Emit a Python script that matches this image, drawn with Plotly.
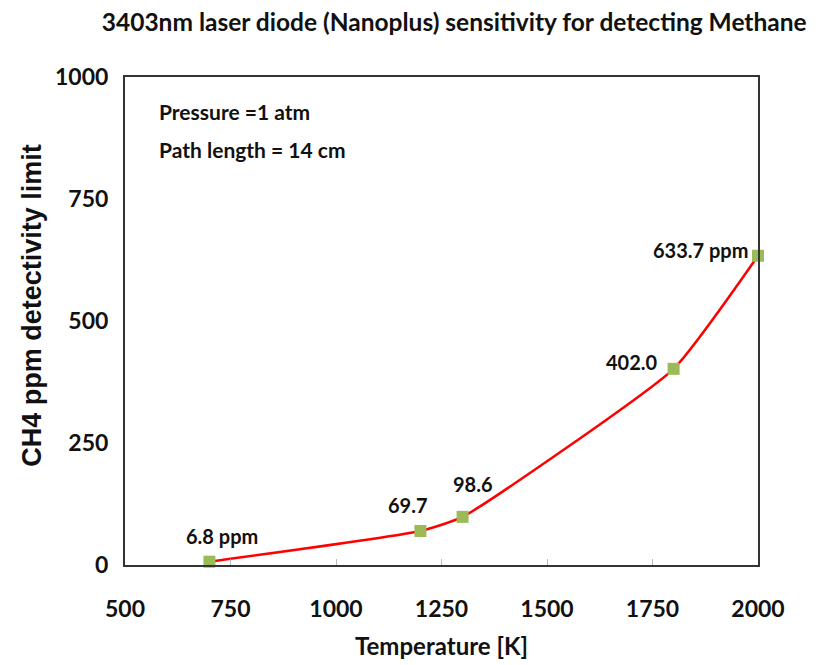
import plotly.graph_objects as go

# temperature [K] and CH4 detectivity limit [ppm]
temperature = [700, 1200, 1300, 1800, 2000]
detect_limit = [6.8, 69.7, 98.6, 402.0, 633.7]
point_labels = ["6.8 ppm", "69.7", "98.6", "402.0", "633.7 ppm"]

x_ticks = [500, 750, 1000, 1250, 1500, 1750, 2000]
y_ticks = [0, 250, 500, 750, 1000]

FONT = "Lato, Liberation Sans, sans-serif"
FONT_Y = "Liberation Sans, Arial, sans-serif"

fig = go.Figure()
fig.add_trace(
    go.Scatter(
        x=temperature,
        y=detect_limit,
        mode="lines+markers",
        line=dict(color="#FF0000", width=2.5, shape="spline", smoothing=0.45),
        marker=dict(symbol="square", size=12, color="#9BBB59"),
        showlegend=False,
        cliponaxis=False,
    )
)

# label offsets (pixels) from each point
offsets = [(13, -26), (-12, -26), (10, -33), (-42, -7), (-58, -6)]
for xv, yv, txt, (ax, ay) in zip(temperature, detect_limit, point_labels, offsets):
    fig.add_annotation(
        x=xv, y=yv, text=f"<b>{txt}</b>", showarrow=True, arrowcolor="rgba(0,0,0,0)",
        ax=ax, ay=ay, font=dict(size=20, color="#111111", family=FONT),
    )

for yy, line in [(0.93, "Pressure =1 atm"), (0.852, "Path length = 14 cm")]:
    fig.add_annotation(
        xref="paper", yref="paper", x=0.05, y=yy, xanchor="left", yanchor="middle",
        showarrow=False, text=f"<b>{line}</b>",
        font=dict(size=21, color="#111111", family=FONT),
    )

# y-axis title (sits a little below the axis centre in the original)
fig.add_annotation(
    xref="paper", yref="paper", x=-0.147, y=0.533, xanchor="center", yanchor="middle",
    showarrow=False, textangle=-90, text="<b>CH4 ppm detectivity limit</b>",
    font=dict(size=27, color="#111111", family=FONT_Y),
)

fig.update_layout(
    width=834,
    height=665,
    paper_bgcolor="white",
    plot_bgcolor="white",
    margin=dict(l=117, r=84, t=69, b=108),
    title=dict(
        text="<b>3403nm laser diode (Nanoplus) sensitivity for detecting Methane</b>",
        x=0.535, xanchor="center", y=0.978, yanchor="middle",
        font=dict(size=24.5, color="#111111", family=FONT),
    ),
    font=dict(family=FONT, color="#111111"),
)
fig.update_xaxes(
    range=[500, 2000], tickvals=x_ticks, ticktext=[f"<b>{v}</b>" for v in x_ticks],
    tickfont=dict(size=23), showgrid=False, zeroline=False,
    showline=True, linecolor="#333333", linewidth=2, mirror=True,
    ticks="inside", ticklen=6, tickcolor="#BBBBBB", ticklabelstandoff=22,
    title=dict(text="<b>Temperature [K]</b>", font=dict(size=24), standoff=18),
    automargin=False,
)
fig.update_yaxes(
    range=[0, 1000], tickvals=y_ticks, ticktext=[f"<b>{v}</b>" for v in y_ticks],
    tickfont=dict(size=23), showgrid=False, zeroline=False,
    showline=True, linecolor="#333333", linewidth=2, mirror=True,
    ticks="", ticklabelstandoff=10,
    automargin=False,
)

fig.write_html("out.html")
